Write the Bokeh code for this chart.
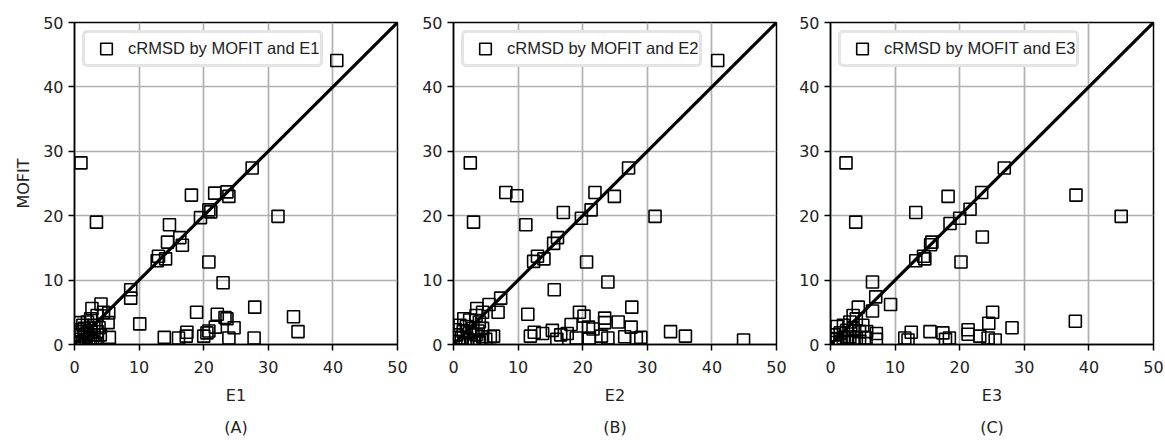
from bokeh.plotting import figure
from bokeh.layouts import row
from bokeh.models import Title, Range1d, FixedTicker
from bokeh.embed import file_html
from bokeh.resources import INLINE

# ---------------- data ----------------
e1 = [40.6, 1.0, 27.5, 18.1, 21.7, 23.6, 23.9, 3.4, 31.5, 19.5, 20.8, 21.1, 14.7, 14.4, 16.3, 16.7,
      12.8, 13.0, 14.1, 20.8, 23.0, 8.7, 8.7, 4.1, 2.7, 5.3, 5.2, 10.1, 5.4, 0.8, 18.9, 22.1, 23.3,
      23.6, 27.9, 33.9, 34.6, 24.7, 21.8, 20.8, 20.5, 20.0, 17.4, 17.3, 16.1, 13.9, 23.9, 27.8,
      4.5, 3.5, 2.5, 2.0, 3.0, 1.5, 2.5, 3.5, 1.0, 2.0, 3.0, 0.5, 1.5, 2.5, 3.5, 0.8, 1.8, 2.8,
      1.2, 0.4, 2.2, 3.2, 1.6, 2.6, 0.6, 3.8, 1.3, 4.0]
mofit_1 = [44.1, 28.2, 27.4, 23.2, 23.5, 23.7, 23.0, 19.0, 19.9, 19.7, 20.9, 20.6, 18.6, 15.9, 16.6, 15.4,
           13.0, 13.7, 13.3, 12.8, 9.6, 8.5, 7.2, 6.3, 5.6, 4.9, 3.4, 3.2, 1.1, 3.4, 5.0, 4.7, 4.2,
           4.0, 5.8, 4.3, 2.0, 2.6, 2.7, 2.1, 1.8, 1.3, 1.9, 1.3, 1.0, 1.1, 1.0, 1.0,
           5.0, 4.5, 4.0, 3.5, 3.0, 2.5, 2.5, 2.0, 2.0, 1.8, 1.5, 1.5, 1.2, 1.0, 1.0, 0.8, 0.6, 0.5,
           0.4, 0.3, 0.3, 0.2, 1.6, 1.9, 2.3, 2.6, 3.0, 1.5]

e2 = [40.9, 2.6, 27.1, 8.1, 9.8, 21.9, 24.9, 3.1, 11.2, 17.0, 21.3, 19.8, 31.2, 16.1, 15.5, 13.0,
      14.0, 12.4, 20.6, 23.9, 15.6, 7.3, 5.5, 3.6, 6.9, 11.5, 19.5, 20.2, 27.6, 23.4, 23.4, 25.5,
      27.5, 33.6, 35.9, 44.9, 11.9, 12.5, 13.8, 15.3, 16.6, 17.6, 18.2, 20.9, 21.6, 22.9, 23.9,
      28.3, 29.0, 6.2, 5.7, 19.0, 26.5, 16.0, 21.0,
      1.6, 4.5, 3.5, 2.5, 4.0, 1.0, 2.0, 3.0, 4.5, 1.5, 2.5, 3.5, 0.5, 4.5, 1.2, 2.2, 3.2, 0.8,
      1.8, 2.8, 4.0, 0.3, 5.0, 3.8]
mofit_2 = [44.1, 28.2, 27.4, 23.6, 23.1, 23.6, 23.0, 19.0, 18.6, 20.5, 20.9, 19.6, 19.9, 16.6, 15.7, 13.7,
           13.3, 12.9, 12.8, 9.7, 8.5, 7.2, 6.2, 5.6, 5.0, 4.7, 5.0, 4.4, 5.8, 4.1, 3.4, 3.5,
           2.7, 2.0, 1.3, 0.7, 1.3, 1.9, 1.7, 2.2, 1.5, 1.7, 3.1, 2.7, 2.4, 1.3, 1.0,
           1.0, 1.1, 1.3, 1.2, 1.0, 1.2, 0.8, 1.0,
           4.0, 5.0, 4.5, 3.8, 3.5, 3.0, 2.8, 2.5, 2.5, 2.0, 1.8, 1.5, 1.5, 1.2, 1.0, 0.8, 0.6, 0.5,
           0.3, 0.2, 0.4, 2.3, 0.8, 2.1]

e3 = [2.4, 26.9, 18.2, 23.4, 38.0, 3.9, 13.2, 45.0, 18.5, 20.0, 21.6, 23.5, 15.7, 15.5, 13.2, 14.4,
      14.6, 20.2, 6.5, 7.0, 9.3, 4.3, 6.5, 3.5, 25.1, 24.5, 28.1, 37.9, 15.4, 17.4, 18.4, 12.5,
      11.5, 21.3, 21.3, 23.1, 24.4, 25.5, 7.1, 7.1, 5.6, 12.0, 17.8,
      4.0, 3.0, 2.0, 1.0, 3.5, 2.5, 1.5, 0.5, 3.0, 2.0, 1.0, 4.0, 4.5, 0.8, 2.5, 3.5, 1.5, 4.5,
      5.5, 5.0]
mofit_3 = [28.2, 27.4, 23.0, 23.6, 23.2, 19.0, 20.5, 19.9, 18.8, 19.6, 21.0, 16.7, 15.9, 15.5, 13.0, 13.7,
           13.3, 12.8, 9.7, 7.4, 6.2, 5.8, 5.2, 4.5, 5.0, 3.3, 2.6, 3.6, 2.0, 1.8, 1.0, 1.9,
           1.0, 2.3, 1.6, 1.3, 1.0, 0.7, 1.7, 0.8, 2.0, 0.7, 0.8,
           4.0, 3.5, 3.0, 2.8, 2.5, 2.2, 1.8, 1.5, 1.2, 1.0, 0.8, 1.0, 2.0, 0.3, 0.4, 0.3, 0.5, 0.5,
           1.0, 3.0]

diag = [0, 50]
ticks = [0, 10, 20, 30, 40, 50]
panels = [
    ("E1", "(A)", e1, mofit_1, "cRMSD by MOFIT and E1"),
    ("E2", "(B)", e2, mofit_2, "cRMSD by MOFIT and E2"),
    ("E3", "(C)", e3, mofit_3, "cRMSD by MOFIT and E3"),
]

TICK_FONT = "DejaVu Sans"
FS = "16px"
borders_left = [74, 43, 41]
borders_right = [13, 13, 12]
FRAME = 323

figs = []
for i, (xl, tag, xs, ys, lab) in enumerate(panels):
    w = borders_left[i] + FRAME + borders_right[i]
    p = figure(width=w, height=444, output_backend="svg", toolbar_location=None,
               x_range=Range1d(0, 50), y_range=Range1d(0, 50),
               min_border_left=borders_left[i], min_border_right=borders_right[i],
               min_border_top=22, min_border_bottom=99)
    p.outline_line_color = "black"
    p.outline_line_width = 1.5
    p.background_fill_color = "white"
    p.border_fill_color = "white"
    for ax in (p.xaxis[0], p.yaxis[0]):
        ax.ticker = FixedTicker(ticks=ticks)
        ax.axis_line_color = "black"
        ax.axis_line_width = 1.5
        ax.major_tick_line_color = "black"
        ax.major_tick_line_width = 1.5
        ax.major_tick_out = 6
        ax.major_tick_in = 0
        ax.minor_tick_line_color = None
        ax.major_label_text_font = TICK_FONT
        ax.major_label_text_font_size = FS
        ax.major_label_text_color = "#222222"
        ax.axis_label_text_font = TICK_FONT
        ax.axis_label_text_font_size = FS
        ax.axis_label_text_font_style = "normal"
        ax.axis_label_text_color = "#222222"
    p.xaxis.major_label_standoff = 10
    p.xaxis.axis_label = xl
    p.xaxis.axis_label_standoff = 10
    p.yaxis.major_label_standoff = 5
    if i == 0:
        p.yaxis.axis_label = "MOFIT"
        p.yaxis.axis_label_standoff = 7
    p.grid.grid_line_color = "#b0b0b0"
    p.grid.grid_line_width = 1.7
    p.grid.ticker = FixedTicker(ticks=ticks)

    p.line(diag, diag, line_color="black", line_width=3.2)
    p.scatter(xs, ys, marker="square", size=12, fill_alpha=0, line_color="black",
              line_width=1.6, legend_label=lab)

    lg = p.legend[0]
    lg.location = "top_left"
    lg.margin = 8
    lg.padding = 1
    lg.border_line_color = "#cacaca"
    lg.border_line_width = 3
    lg.label_text_font = "Liberation Sans"
    lg.label_text_font_size = "16.5px"
    lg.label_text_color = "#222222"
    lg.glyph_width = 40
    lg.glyph_height = 29
    lg.label_standoff = 2
    lg.background_fill_alpha = 1
    try:
        lg.border_radius = 5
    except Exception:
        pass

    t = Title(text=tag, align="center", text_font=TICK_FONT, text_font_size=FS,
              text_font_style="normal", text_color="#222222", standoff=16)
    p.add_layout(t, "below")
    figs.append(p)

layout = row(*figs)
open("out.html", "w").write(file_html(layout, INLINE))
